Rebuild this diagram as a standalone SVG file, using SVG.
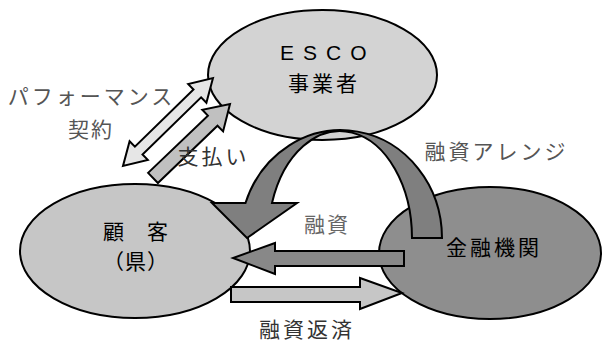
<svg xmlns="http://www.w3.org/2000/svg" width="602" height="344" viewBox="0 0 602 344">
<style>
.s{stroke:#000;stroke-width:2;stroke-linejoin:miter}
.t{font-family:"Noto Sans CJK JP","Liberation Sans",sans-serif;font-size:21px;text-anchor:middle;letter-spacing:3px}
</style>
<rect width="602" height="344" fill="#fff"/>
<g id="esco">
<ellipse class="s" cx="322.5" cy="75" rx="114.5" ry="65" fill="#d3d3d3"/>
<text x="280" y="60" font-family="Liberation Sans,sans-serif" font-size="21" letter-spacing="9">ESCO</text>
<text class="t" x="324" y="91" font-size="22">事業者</text>
</g>
<g id="customer">
<ellipse class="s" cx="135" cy="251" rx="115" ry="67" fill="#c6c6c6"/>
<text class="t" x="136" y="239" style="letter-spacing:1px">顧　客</text>
<text class="t" x="136" y="269" style="letter-spacing:1px">（県）</text>
</g>
<g id="bank">
<ellipse class="s" cx="490" cy="253" rx="111" ry="66" fill="#8e8e8e"/>
<text class="t" x="494" y="255" font-size="22">金融機関</text>
</g>
<g id="connectors">
<path class="s" fill="#7f7f7f" d="M442,238 L412,238 A72,107 0 0 0 272,203 L297,203 L247,238 L212,203 L245.5,203 A101,108 0 0 1 442,238 Z"/>
<polygon class="s" fill="#888" points="404,251 275,251 275,243 233,258 275,274 275,266 404,266"/>
<polygon class="s" fill="#c6c6c6" points="231,287 360,287 360,278 402,293 360,309 360,302 231,302"/>
<polygon class="s" fill="#e6e6e6" points="213,78 206.4,102.7 201.1,97.3 142.5,154.5 147.8,159.9 123,166 129.6,141.3 134.9,146.7 193.5,89.5 188.2,84.1"/>
<polygon class="s" fill="#c0c0c0" points="148.1,172.9 207.9,115.6 202.3,109.8 230,104 223.1,131.4 217.5,125.7 157.9,183"/>
</g>
<g id="labels">
<text class="t" x="91.5" y="104" fill="#555" font-size="22">パフォーマンス</text>
<text class="t" x="91" y="137" fill="#555" style="letter-spacing:2px">契約</text>
<text class="t" x="213.5" y="164" fill="#333">支払い</text>
<text class="t" x="496.5" y="159" fill="#555" font-size="22">融資アレンジ</text>
<text class="t" x="327" y="232" fill="#666" style="letter-spacing:2px">融資</text>
<text class="t" x="307" y="337" fill="#333">融資返済</text>
</g>
</svg>
